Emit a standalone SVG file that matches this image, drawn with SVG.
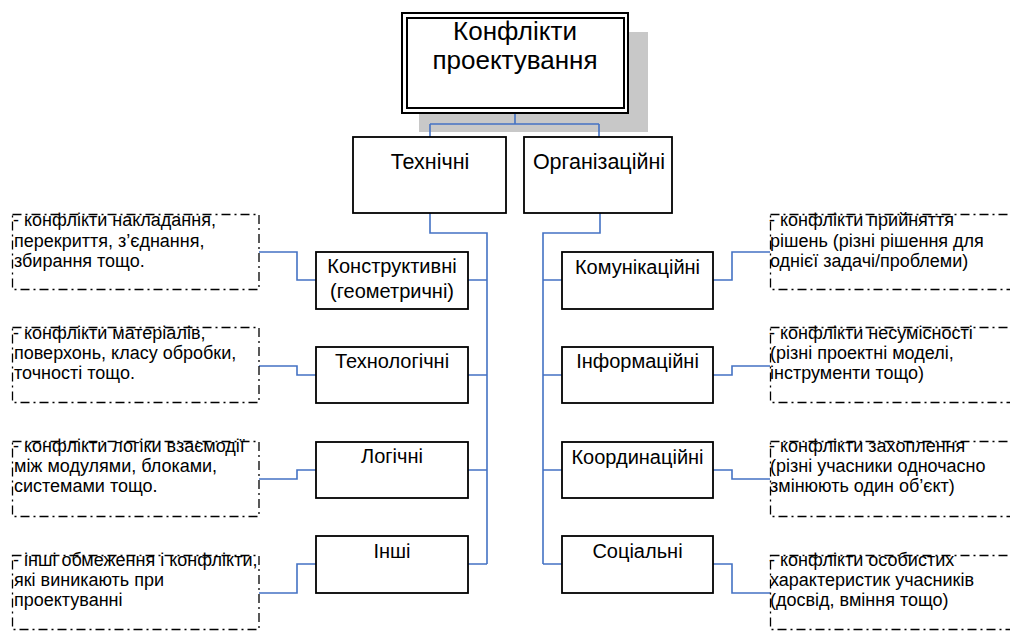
<svg xmlns="http://www.w3.org/2000/svg" width="1010" height="631" viewBox="0 0 1010 631">
<style>
text{font-family:"Liberation Sans",Arial,sans-serif;fill:#000}
.box{fill:#fff;stroke:#000;stroke-width:1.8}
.ann{fill:none;stroke:#000;stroke-width:1.3;stroke-dasharray:9 4 2 4}
.t1{font-size:26px;text-anchor:middle}
.t2{font-size:21.5px;text-anchor:middle}
.t3{font-size:20px;text-anchor:middle}
.ta{font-size:18px}
.con{fill:none;stroke:#4472C4;stroke-width:1.6}
</style>
<rect x="419" y="32" width="229" height="100" fill="#c8c8c8"/>
<g id="connectors">
<path class="con" d="M515 113V124M430 124H599M430 124V137M599 124V137"/>
<path class="con" d="M430 213V233H487V564"/>
<path class="con" d="M468 280H487M468 375H487M468 470H487M468 564H487"/>
<path class="con" d="M600 213V233H543V564"/>
<path class="con" d="M543 280H562M543 375H562M543 470H562M543 564H562"/>
<path class="con" d="M259 252H297V280H316"/>
<path class="con" d="M259 366H297V375H316"/>
<path class="con" d="M259 479H297V470H316"/>
<path class="con" d="M259 593H297V564H316"/>
<path class="con" d="M713 280H732V252H770"/>
<path class="con" d="M713 375H732V366H770"/>
<path class="con" d="M713 470H732V479H770"/>
<path class="con" d="M713 564H732V593H770"/>
</g>
<g id="root">
<rect x="402" y="13" width="226" height="100" fill="#fff" stroke="#000" stroke-width="2"/>
<rect x="407" y="18" width="217" height="90" fill="none" stroke="#000" stroke-width="2"/>
<text class="t1" x="515" y="40">Конфлікти</text>
<text class="t1" x="515" y="69">проектування</text>
</g>
<g id="tech">
<rect class="box" x="353" y="137" width="153" height="76"/>
<text class="t2" x="430" y="169">Технічні</text>
</g>
<g id="org">
<rect class="box" x="524" y="137" width="148" height="76"/>
<text class="t2" x="599" y="169">Організаційні</text>
</g>
<g id="konstr">
<rect class="box" x="316" y="252" width="152" height="57"/>
<text class="t3" x="392" y="273">Конструктивні</text>
<text class="t3" x="392" y="298">(геометричні)</text>
</g>
<g id="tekhn">
<rect class="box" x="316" y="347" width="152" height="56"/>
<text class="t3" x="392" y="368">Технологічні</text>
</g>
<g id="logic">
<rect class="box" x="316" y="442" width="152" height="56"/>
<text class="t3" x="392" y="463">Логічні</text>
</g>
<g id="inshi">
<rect class="box" x="316" y="536" width="152" height="57"/>
<text class="t3" x="392" y="558">Інші</text>
</g>
<g id="komun">
<rect class="box" x="562" y="252" width="151" height="57"/>
<text class="t3" x="637.5" y="274">Комунікаційні</text>
</g>
<g id="inform">
<rect class="box" x="562" y="347" width="151" height="56"/>
<text class="t3" x="637.5" y="368">Інформаційні</text>
</g>
<g id="koord">
<rect class="box" x="562" y="442" width="151" height="56"/>
<text class="t3" x="637.5" y="464">Координаційні</text>
</g>
<g id="soc">
<rect class="box" x="562" y="536" width="151" height="57"/>
<text class="t3" x="637.5" y="558">Соціальні</text>
</g>
<g id="ann-l1">
<rect class="ann" x="12.5" y="214.5" width="246.5" height="75"/>
<text class="ta" x="13" y="226">- конфлікти накладання,</text>
<text class="ta" x="14" y="247">перекриття, з’єднання,</text>
<text class="ta" x="14" y="267">збирання тощо.</text>
</g>
<g id="ann-l2">
<rect class="ann" x="12.5" y="327.5" width="246.5" height="75"/>
<text class="ta" x="13" y="339">- конфлікти матеріалів,</text>
<text class="ta" x="14" y="359">поверхонь, класу обробки,</text>
<text class="ta" x="14" y="379">точності тощо.</text>
</g>
<g id="ann-l3">
<rect class="ann" x="12.5" y="441.5" width="246.5" height="75"/>
<text class="ta" x="13" y="452">- конфлікти логіки взаємодії</text>
<text class="ta" x="14" y="472">між модулями, блоками,</text>
<text class="ta" x="14" y="492">системами тощо.</text>
</g>
<g id="ann-l4">
<rect class="ann" x="12.5" y="555.5" width="246.5" height="74"/>
<text class="ta" x="13" y="566">- інші обмеження і конфлікти,</text>
<text class="ta" x="14" y="586">які виникають при</text>
<text class="ta" x="14" y="606">проектуванні</text>
</g>
<g id="ann-r1">
<rect class="ann" x="770.5" y="214.5" width="246.5" height="75"/>
<text class="ta" x="769" y="226">- конфлікти прийняття</text>
<text class="ta" x="770" y="247">рішень (різні рішення для</text>
<text class="ta" x="770" y="267">однієї задачі/проблеми)</text>
</g>
<g id="ann-r2">
<rect class="ann" x="770.5" y="327.5" width="246.5" height="75"/>
<text class="ta" x="769" y="339">- конфлікти несумісності</text>
<text class="ta" x="770" y="359">(різні проектні моделі,</text>
<text class="ta" x="770" y="379">інструменти тощо)</text>
</g>
<g id="ann-r3">
<rect class="ann" x="770.5" y="441.5" width="246.5" height="75"/>
<text class="ta" x="769" y="452">- конфлікти захоплення</text>
<text class="ta" x="770" y="472">(різні учасники одночасно</text>
<text class="ta" x="770" y="492">змінюють один об’єкт)</text>
</g>
<g id="ann-r4">
<rect class="ann" x="770.5" y="555.5" width="246.5" height="74"/>
<text class="ta" x="769" y="566">- конфлікти особистих</text>
<text class="ta" x="770" y="586">характеристик учасників</text>
<text class="ta" x="770" y="606">(досвід, вміння тощо)</text>
</g>
</svg>
